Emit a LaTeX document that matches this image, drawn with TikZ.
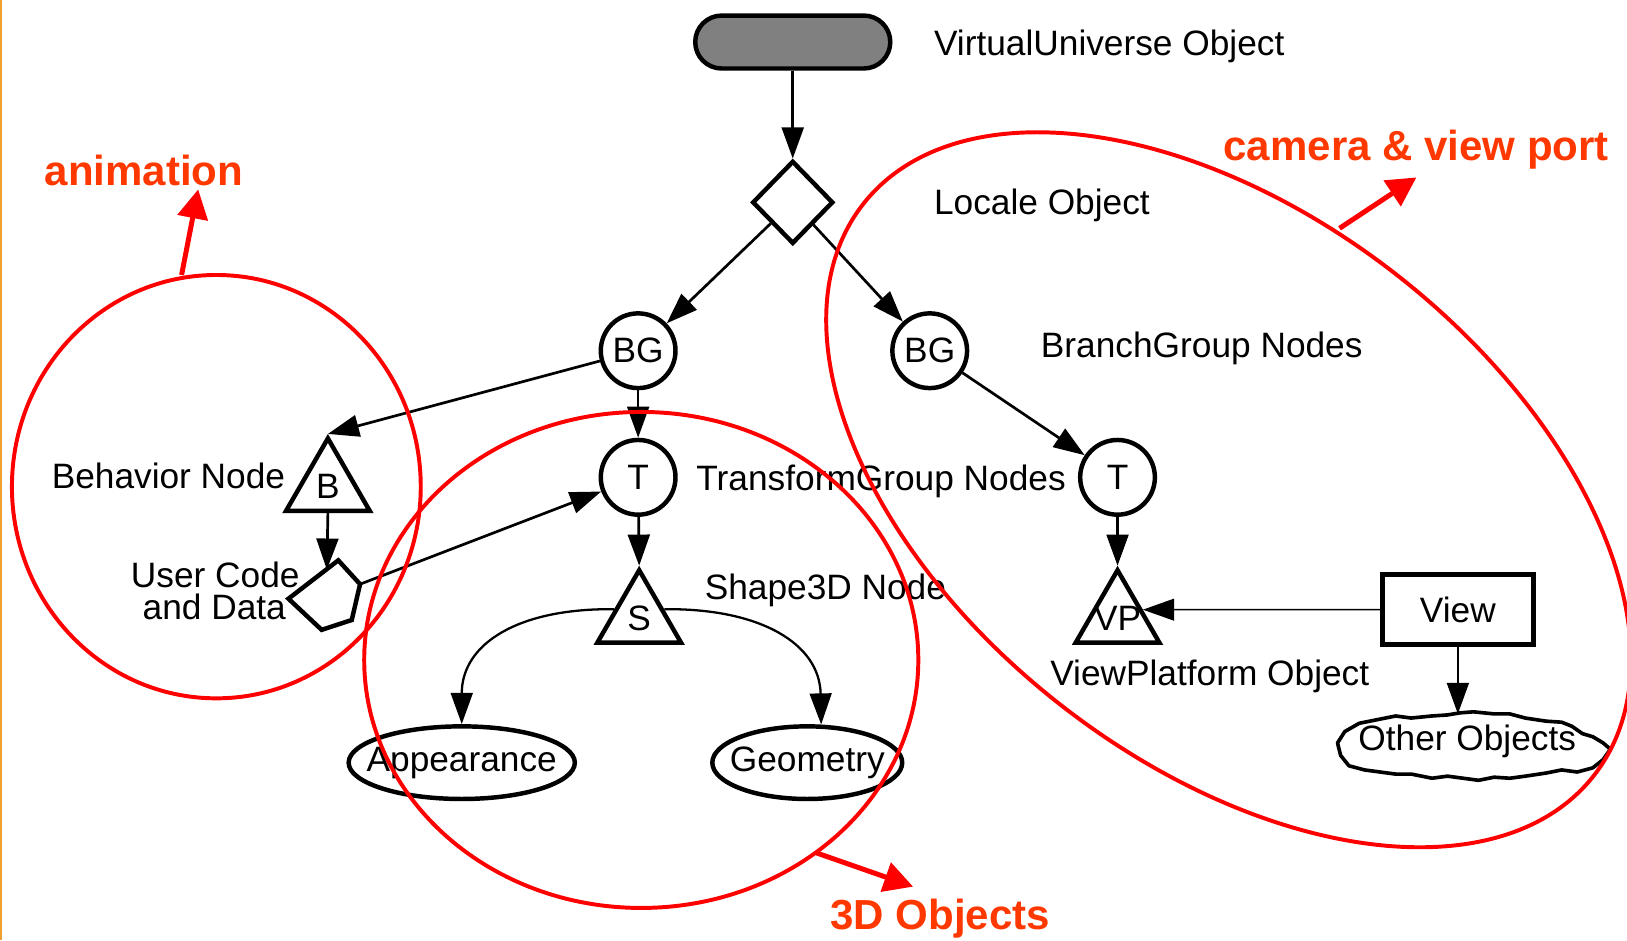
\documentclass[tikz,border=0pt]{standalone}
\usepackage{fontspec}
\setmainfont{Liberation Sans}
\usetikzlibrary{arrows.meta,shapes.geometric,calc}
\definecolor{annot}{RGB}{255,0,0}
\definecolor{annottext}{RGB}{255,56,0}
\definecolor{vugray}{RGB}{128,128,128}
\definecolor{edgeline}{RGB}{240,160,48}

\begin{document}
\begin{tikzpicture}[x=1pt,y=-1pt,
  every node/.style={font=\fontsize{34}{28}\selectfont},
  txt/.style={inner sep=0pt},
  lbl/.style={inner sep=0pt},
  shapeline/.style={draw, line width=4.3pt, inner sep=0pt},
  grp/.style={circle, shapeline, minimum size=72pt},
  tri/.style={regular polygon, regular polygon sides=3, shapeline, minimum size=93pt},
  head/.style={-{Triangle[length=30pt,width=21pt]}},
  link/.style={line width=2.6pt, head},
  ring/.style={draw=annot, line width=3.8pt},
  callout/.style={draw=annot, line width=4.8pt, -{Triangle[length=28pt,width=29pt]}},
  tag/.style={text=annottext, font=\fontsize{40.5}{48}\selectfont\bfseries, inner sep=0pt}
]
\useasboundingbox (0,0) rectangle (1568,906);
\fill[white] (0,0) rectangle (1568,906);
\draw[edgeline, line width=1.4pt] (1,0) -- (1,906);

% scene graph nodes
\node[shapeline, rectangle, rounded corners=25.5pt, fill=vugray,
      minimum width=188pt, minimum height=51pt] (VU) at (764,40.5) {};
\node[txt, anchor=base west] (VUt) at (900,53) {VirtualUniverse Object};

\node[diamond, shapeline, minimum width=78pt, minimum height=80pt] (L) at (764,195) {};
\node[txt, anchor=base west] (Lt) at (900,207) {Locale Object};

\node[grp] (BG1) at (615,338) {BG};
\node[grp] (BG2) at (896,338) {BG};
\node[txt, anchor=base west] (BGt) at (1003,345) {BranchGroup Nodes};

\node[grp] (T1) at (615,460) {T};
\node[grp] (T2) at (1077,460) {T};
\node[txt, anchor=base west] (Tt) at (671,473) {TransformGroup Nodes};

\node[tri, label={[lbl]center:B}] (B) at (316,469) {};
\node[txt, anchor=base east] (Bt) at (275,471) {Behavior Node};

% user code pentagon
\coordinate (P1) at (326,540);
\coordinate (P2) at (347,563);
\coordinate (P3) at (339,597.5);
\coordinate (P4) at (310,607);
\coordinate (P5) at (278,577);
\coordinate (Pin) at (315,549);
\draw[line width=4.3pt] (P1) -- (P2) -- (P3) -- (P4) -- (P5) -- cycle;
\node[txt, anchor=base] (UC1) at (207.5,566) {User Code};
\node[txt, anchor=base] (UC2) at (206.5,597) {and Data};

\node[tri, label={[lbl]center:S}] (S) at (616,596) {};
\node[txt, anchor=base west] (St) at (679,578) {Shape3D Node};

\node[ellipse, shapeline, minimum width=218pt, minimum height=70pt,
      label={[lbl]center:Appearance}] (App) at (445,735) {};
\node[ellipse, shapeline, minimum width=183pt, minimum height=70pt,
      label={[lbl]center:Geometry}] (Geo) at (778,735) {};

\node[tri, label={[lbl]center:VP}] (VP) at (1077,596) {};
\node[txt, anchor=base west] (VPt) at (1012,661) {ViewPlatform Object};

\node[rectangle, draw, line width=5pt, minimum width=145pt, minimum height=68pt,
      inner sep=0pt] (View) at (1405,587.5) {View};

% ragged outline of the other objects
\node[txt] (OO) at (1414,714) {Other Objects};
\coordinate (OOtop) at (1405,688);
\draw[line width=3.5pt, line join=round]
  (1296,705) -- (1310,697) -- (1330,693) -- (1345,690) -- (1360,692) -- (1380,690)
  -- (1395,689) -- (1407,687) -- (1420,686) -- (1440,688) -- (1455,688) -- (1470,692)
  -- (1490,695) -- (1505,696) -- (1515,700) -- (1525,707) -- (1535,710) -- (1545,716)
  -- (1552,722) -- (1545,732) -- (1535,740) -- (1520,744) -- (1505,742) -- (1490,745)
  -- (1470,748) -- (1455,750) -- (1440,749) -- (1425,752) -- (1410,750) -- (1395,748)
  -- (1380,750) -- (1360,746) -- (1345,746) -- (1330,744) -- (1315,742) -- (1300,738)
  -- (1292,728) -- (1289,716) -- cycle;

% connectors
\draw[link] (VU) -- (L);
\draw[link] (L) -- (BG1);
\draw[link] (L) -- (BG2);
\draw[link] (BG1) -- (B.corner 1);
\draw[link] (BG1) -- (T1);
\draw[link] (BG2) -- (T2);
\draw[link] (B.south) -- (Pin);
\draw[link] (P2) -- (T1);
\draw[link] (T1) -- (S.corner 1);
\draw[link] (T2) -- (VP.corner 1);
\draw[link, line width=2.2pt] ($(S.corner 1)!0.55!(S.corner 2)$)
  .. controls (500,586) and (445,620) .. (App.north);
\draw[link, line width=2.2pt] ($(S.corner 1)!0.55!(S.corner 3)$)
  .. controls (732,586) and (790,620) .. (Geo.70);
\draw[line width=1.4pt, head]
  (View.west) -- ($(VP.corner 1)!0.556!(VP.corner 3)$);
\draw[link] (View.south) -- (OOtop);

% annotation rings
\draw[ring] (208.5,469) ellipse [x radius=197, y radius=204];
\draw[ring] (618,636) ellipse [x radius=267, y radius=239];
\draw[ring, rotate around={-38:(1184,472)}] (1184,472) ellipse [x radius=447, y radius=263];

% annotation labels and pointers
\node[tag, anchor=base west] (tagA) at (43,179) {animation};
\node[tag, anchor=base west] (tagC) at (1179,155) {camera \& view port};
\node[tag, anchor=base west] (tagD) at (800,896) {3D Objects};
\coordinate (a0) at (175,265);
\coordinate (a1) at (191,182.5);
\coordinate (c0) at (1291,220);
\coordinate (c1) at (1365,171);
\coordinate (d0) at (787,822);
\coordinate (d1) at (880,854.5);
\draw[callout] (a0) -- (a1);
\draw[callout] (c0) -- (c1);
\draw[callout] (d0) -- (d1);
\end{tikzpicture}
\end{document}
